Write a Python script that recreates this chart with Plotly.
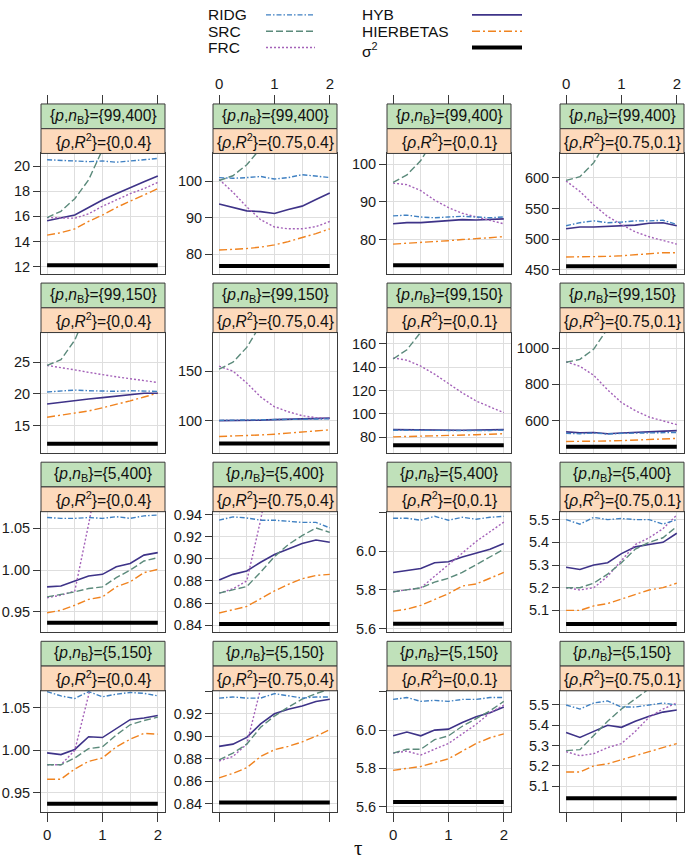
import plotly.graph_objects as go

W, H = 685, 865

# ---------------- data ----------------
TAU = [0, 0.25, 0.5, 0.75, 1.0, 1.25, 1.5, 1.75, 2.0]
ROW_LABELS = ["{99,400}", "{99,150}", "{5,400}", "{5,150}"]        # {p, n_B}
COL_LABELS = ["{0,0.4}", "{0.75,0.4}", "{0,0.1}", "{0.75,0.1}"]   # {rho, R^2}
METHODS = ["RIDG", "SRC", "FRC", "HYB", "HIERBETAS"]

# panels in row-major order (row = {p,nB}, col = {rho,R2})
RIDG = [
    [20.5, 20.45, 20.35, 20.35, 20.4, 20.3, 20.4, 20.5, 20.6],
    [101.0, 100.8, 101.0, 101.3, 100.6, 101.0, 101.8, 101.3, 101.0],
    [86.3, 86.5, 86.0, 85.8, 86.0, 86.2, 86.0, 85.8, 86.0],
    [522, 527, 530, 527, 528, 530, 530, 531, 524],
    [20.3, 20.4, 20.6, 20.5, 20.4, 20.4, 20.5, 20.4, 20.4],
    [100.3, 100.5, 100.6, 100.8, 101.0, 100.7, 101.2, 101.5, 101.8],
    [86.0, 85.8, 85.9, 85.6, 85.8, 85.7, 85.5, 85.8, 86.0],
    [530, 528, 532, 526, 530, 532, 530, 534, 535],
    [1.063, 1.062, 1.062, 1.063, 1.062, 1.064, 1.062, 1.065, 1.066],
    [0.935, 0.938, 0.937, 0.935, 0.935, 0.934, 0.933, 0.933, 0.928],
    [6.17, 6.17, 6.16, 6.18, 6.16, 6.175, 6.165, 6.175, 6.18],
    [5.50, 5.48, 5.51, 5.50, 5.505, 5.50, 5.50, 5.48, 5.50],
    [1.069, 1.064, 1.061, 1.069, 1.063, 1.066, 1.068, 1.067, 1.064],
    [0.934, 0.935, 0.934, 0.934, 0.938, 0.936, 0.934, 0.935, 0.935],
    [6.16, 6.17, 6.15, 6.155, 6.15, 6.16, 6.16, 6.17, 6.17],
    [5.50, 5.48, 5.51, 5.52, 5.49, 5.49, 5.50, 5.51, 5.50],
]
SRC = [
    [15.9, 16.4, 17.4, 18.9, 21.3, 24.5, 28.0, 31.5, 35.0],
    [100.2, 101.5, 104.5, 109, 115, 122, 130, 138, 147],
    [95.2, 97.2, 101.0, 106.5, 113, 121, 130, 140, 150],
    [596, 602, 625, 660, 700, 745, 790, 840, 890],
    [24.5, 25.4, 28.5, 33, 38, 44, 50, 56, 62],
    [152, 159, 174, 195, 220, 248, 278, 310, 345],
    [147, 155, 170, 190, 212, 236, 262, 290, 320],
    [922, 938, 995, 1100, 1220, 1350, 1490, 1640, 1800],
    [0.968, 0.971, 0.974, 0.978, 0.980, 0.991, 1.000, 1.011, 1.015],
    [0.869, 0.872, 0.875, 0.888, 0.902, 0.913, 0.921, 0.928, 0.924],
    [5.79, 5.80, 5.81, 5.84, 5.86, 5.89, 5.93, 5.97, 6.01],
    [5.20, 5.20, 5.22, 5.26, 5.31, 5.37, 5.40, 5.42, 5.47],
    [0.983, 0.983, 0.991, 1.002, 1.004, 1.018, 1.030, 1.035, 1.039],
    [0.879, 0.885, 0.893, 0.908, 0.918, 0.926, 0.933, 0.938, 0.942],
    [5.88, 5.90, 5.90, 5.95, 5.97, 6.02, 6.06, 6.10, 6.15],
    [5.275, 5.28, 5.35, 5.42, 5.48, 5.53, 5.58, 5.63, 5.68],
]
FRC = [
    [15.9, 15.9, 15.85, 16.2, 16.8, 17.3, 17.8, 18.2, 18.7],
    [100.5, 97.0, 93.0, 89.5, 87.5, 87.0, 87.0, 87.6, 89.0],
    [95.0, 94.6, 93.0, 90.5, 88.5, 87.0, 86.0, 85.0, 84.2],
    [595, 578, 556, 537, 524, 512, 504, 498, 492],
    [24.5, 24.2, 23.8, 23.4, 23.0, 22.7, 22.4, 22.1, 21.8],
    [155, 150, 138, 124, 114, 109, 105, 103, 102],
    [148, 146, 141, 134, 126, 118, 111, 106, 101],
    [925, 900, 850, 770, 700, 655, 620, 598, 578],
    [0.967, 0.970, 0.975, 1.055, 1.14, 1.22, 1.30, 1.38, 1.46],
    [0.869, 0.873, 0.880, 0.935, 1.00, 1.07, 1.14, 1.21, 1.28],
    [5.79, 5.80, 5.81, 5.87, 5.93, 5.99, 6.05, 6.10, 6.15],
    [5.20, 5.19, 5.20, 5.25, 5.32, 5.39, 5.42, 5.46, 5.52],
    [0.983, 0.983, 1.000, 1.065, 1.14, 1.21, 1.28, 1.35, 1.42],
    [0.878, 0.882, 0.893, 0.940, 0.99, 1.04, 1.09, 1.14, 1.19],
    [5.88, 5.89, 5.87, 5.90, 5.93, 5.98, 6.03, 6.09, 6.13],
    [5.27, 5.25, 5.26, 5.29, 5.31, 5.37, 5.44, 5.48, 5.51],
]
HYB = [
    [15.65, 15.85, 16.1, 16.7, 17.3, 17.8, 18.3, 18.75, 19.2],
    [93.8, 92.8, 91.9, 91.7, 91.2, 92.3, 93.2, 95.0, 96.8],
    [84.2, 84.5, 84.5, 84.8, 85.0, 85.3, 85.2, 85.3, 85.5],
    [517, 520, 520, 521, 522, 523, 526, 527, 522],
    [18.4, 18.7, 19.0, 19.2, 19.4, 19.6, 19.9, 20.1, 20.1],
    [100.0, 100.0, 100.3, 100.5, 101.0, 101.3, 101.5, 102.0, 102.5],
    [86.5, 86.3, 86.0, 86.0, 86.0, 86.0, 86.2, 86.3, 86.5],
    [538, 533, 535, 528, 532, 535, 536, 540, 545],
    [0.980, 0.981, 0.987, 0.993, 0.995, 1.004, 1.008, 1.018, 1.021],
    [0.881, 0.886, 0.889, 0.897, 0.904, 0.909, 0.914, 0.917, 0.915],
    [5.89, 5.90, 5.91, 5.94, 5.945, 5.97, 5.99, 6.01, 6.04],
    [5.29, 5.28, 5.30, 5.31, 5.35, 5.38, 5.39, 5.40, 5.44],
    [0.997, 0.995, 1.001, 1.016, 1.015, 1.026, 1.036, 1.038, 1.041],
    [0.891, 0.893, 0.899, 0.911, 0.920, 0.924, 0.927, 0.931, 0.933],
    [5.97, 5.99, 5.97, 6.00, 6.005, 6.04, 6.07, 6.09, 6.12],
    [5.365, 5.34, 5.37, 5.40, 5.39, 5.42, 5.445, 5.465, 5.475],
]
HIERBETAS = [
    [14.5, 14.7, 15.0, 15.6, 16.1, 16.7, 17.2, 17.7, 18.2],
    [81.2, 81.3, 81.6, 82.0, 82.6, 83.5, 84.5, 85.7, 87.0],
    [78.8, 79.0, 79.2, 79.4, 79.7, 80.0, 80.2, 80.5, 80.8],
    [471, 471, 471, 472, 473, 475, 477, 478, 478],
    [16.3, 16.6, 16.9, 17.3, 17.8, 18.3, 18.9, 19.5, 20.1],
    [84.0, 84.3, 84.8, 85.5, 86.3, 87.3, 88.4, 89.5, 90.7],
    [80.3, 80.5, 80.7, 81.0, 81.3, 81.7, 82.1, 82.5, 83.0],
    [485, 485, 487, 488, 490, 492, 495, 498, 502],
    [0.949, 0.952, 0.958, 0.965, 0.968, 0.980, 0.986, 0.997, 1.001],
    [0.851, 0.854, 0.857, 0.864, 0.871, 0.877, 0.882, 0.885, 0.886],
    [5.69, 5.70, 5.72, 5.75, 5.78, 5.82, 5.83, 5.86, 5.89],
    [5.10, 5.10, 5.12, 5.13, 5.15, 5.17, 5.19, 5.20, 5.22],
    [0.966, 0.966, 0.978, 0.987, 0.991, 1.004, 1.013, 1.020, 1.019],
    [0.863, 0.867, 0.872, 0.882, 0.888, 0.891, 0.895, 0.900, 0.906],
    [5.79, 5.80, 5.81, 5.83, 5.85, 5.89, 5.93, 5.96, 5.98],
    [5.17, 5.17, 5.20, 5.21, 5.23, 5.25, 5.27, 5.29, 5.31],
]
SIGMA2 = [12.1, 76.8, 73.2, 456, 12.1, 76.8, 73.2, 456,
          0.937, 0.841, 5.625, 5.04, 0.937, 0.841, 5.625, 5.04]

Y_TICKVALS = [
    [12, 14, 16, 18, 20], [80, 90, 100], [80, 90, 100], [450, 500, 550, 600],
    [15, 20, 25], [100, 150], [80, 100, 120, 140, 160], [600, 800, 1000],
    [0.95, 1.00, 1.05], [0.84, 0.86, 0.88, 0.90, 0.92, 0.94], [5.6, 5.8, 6.0, 6.2], [5.1, 5.2, 5.3, 5.4, 5.5],
    [0.95, 1.00, 1.05], [0.84, 0.86, 0.88, 0.90, 0.92, 0.94], [5.6, 5.8, 6.0, 6.2], [5.1, 5.2, 5.3, 5.4, 5.5],
]
Y_TICKTEXT = [
    ["12", "14", "16", "18", "20"], ["80", "90", "100"], ["80", "90", "100"], ["450", "500", "550", "600"],
    ["15", "20", "25"], ["100", "150"], ["80", "100", "120", "140", "160"], ["600", "800", "1000"],
    ["0.95", "1.00", "1.05"], ["0.84", "0.86", "0.88", "0.90", "0.92", "0.94"], ["5.6", "5.8", "6.0", ""], ["5.1", "5.2", "5.3", "5.4", "5.5"],
    ["0.95", "1.00", "1.05"], ["0.84", "0.86", "0.88", "0.90", "0.92", ""], ["5.6", "5.8", "6.0", ""], ["5.1", "5.2", "5.3", "5.4", "5.5"],
]
Y_RANGES = [
    [11.4, 21.0], [74.6, 107.6], [70.8, 102.9], [443, 640],
    [10.6, 29.7], [67, 189], [66.2, 169.7], [420, 1086],
    [0.9255, 1.070], [0.8335, 0.9427], [5.58, 6.204], [5.003, 5.535],
    [0.928, 1.070], [0.833, 0.9405], [5.575, 6.205], [4.975, 5.57],
]
X_TICKVALS = [0, 1, 2]

# ---------------- styling ----------------
STYLE = {
    "RIDG": dict(color="#3F80C2", dash="5px,2px,1.5px,2px", width=1.4),
    "SRC": dict(color="#5B8A7B", dash="7px,3px", width=1.4),
    "FRC": dict(color="#A462B9", dash="2px,2px", width=1.4),
    "HYB": dict(color="#3E3388", dash="solid", width=1.6),
    "HIERBETAS": dict(color="#F0831F", dash="8px,3px,2px,3px", width=1.4),
}
SERIES = {"RIDG": RIDG, "SRC": SRC, "FRC": FRC, "HYB": HYB, "HIERBETAS": HIERBETAS}
DRAW_ORDER = ["HIERBETAS", "HYB", "FRC", "SRC", "RIDG"]

FONT = "Liberation Sans, Arial, Helvetica, sans-serif"
COL_X = [41, 213, 387, 560]
PANEL_W = 124
ROW_Y = [100, 281, 462, 643]
STRIP_H = 25
PANEL_H = 122
XR = [-0.11, 2.13]
GREEN = "#C0E1BA"
PEACH = "#FDDABC"
BORDER = "#3a3a3a"
GRID = "#DEDEDE"


def px(x):
    return x / W


def py(y):
    return 1 - y / H


fig = go.Figure()
layout = dict(width=W, height=H, margin=dict(l=0, r=0, t=0, b=0),
              plot_bgcolor="white", paper_bgcolor="white", showlegend=False,
              font=dict(family=FONT, size=14, color="#1a1a1a"))
shapes, annotations = [], []

for r in range(4):
    for c in range(4):
        k = r * 4 + c
        s = "" if k == 0 else str(k + 1)
        x0, x1 = COL_X[c], COL_X[c] + PANEL_W
        ptop = ROW_Y[r] + 2 * STRIP_H
        pbot = ptop + PANEL_H
        bottom_row = (r == 3)
        layout["xaxis" + s] = dict(
            domain=[px(x0), px(x1)], anchor="y" + s, range=XR,
            tickvals=X_TICKVALS, ticktext=["0", "1", "2"],
            showticklabels=bottom_row and c in (0, 2),
            ticks="outside" if bottom_row else "", ticklen=9, tickcolor=BORDER, tickwidth=1,
            showgrid=True, gridcolor=GRID, gridwidth=1.3,
            minor=dict(tickvals=[0.5, 1.5], showgrid=True, gridcolor=GRID, gridwidth=1.3, ticks=""),
            showline=True, mirror=True, linecolor=BORDER, linewidth=1,
            zeroline=False, tickfont=dict(size=15), fixedrange=True,
        )
        layout["yaxis" + s] = dict(
            domain=[py(pbot), py(ptop)], anchor="x" + s, range=Y_RANGES[k],
            tickvals=Y_TICKVALS[k], ticktext=Y_TICKTEXT[k],
            ticks="outside", ticklen=7, tickcolor=BORDER, tickwidth=1,
            showgrid=True, gridcolor=GRID, gridwidth=1.3,
            showline=True, mirror=True, linecolor=BORDER, linewidth=1,
            zeroline=False, tickfont=dict(size=14.5), fixedrange=True,
        )
        # sigma^2 reference line
        fig.add_trace(go.Scatter(
            x=TAU, y=[SIGMA2[k]] * len(TAU), mode="lines",
            line=dict(color="black", width=4), xaxis="x" + s, yaxis="y" + s,
            hoverinfo="skip"))
        for m in DRAW_ORDER:
            st = STYLE[m]
            fig.add_trace(go.Scatter(
                x=TAU, y=SERIES[m][k], mode="lines", name=m,
                line=dict(color=st["color"], dash=st["dash"], width=st["width"]),
                xaxis="x" + s, yaxis="y" + s))
        # strips
        sy = ROW_Y[r]
        shapes.append(dict(type="rect", xref="paper", yref="paper",
                           x0=px(x0), x1=px(x1), y0=py(sy + STRIP_H), y1=py(sy),
                           fillcolor=GREEN, line=dict(color=BORDER, width=1), layer="above"))
        shapes.append(dict(type="rect", xref="paper", yref="paper",
                           x0=px(x0), x1=px(x1), y0=py(sy + 2 * STRIP_H), y1=py(sy + STRIP_H),
                           fillcolor=PEACH, line=dict(color=BORDER, width=1), layer="above"))
        annotations.append(dict(
            xref="paper", yref="paper", x=px((x0 + x1) / 2), y=py(sy + STRIP_H / 2),
            text="{<i>p</i>,<i>n</i><sub>B</sub>}=" + ROW_LABELS[r], showarrow=False,
            font=dict(size=15.6, family=FONT, color="#111"), xanchor="center", yanchor="middle"))
        annotations.append(dict(
            xref="paper", yref="paper", x=px((x0 + x1) / 2), y=py(sy + 1.5 * STRIP_H),
            text="{<i>ρ</i>,<i>R</i><sup>2</sup>}=" + COL_LABELS[c], showarrow=False,
            font=dict(size=15.6, family=FONT, color="#111"), xanchor="center", yanchor="middle"))

# top tick axes (above the strips of the first row)
for c in range(4):
    n = 17 + c
    base = "x" if c == 0 else "x" + str(c + 1)
    yb = "y" if c == 0 else "y" + str(c + 1)
    layout["xaxis" + str(n)] = dict(
        overlaying=base, anchor="free", position=py(ROW_Y[0]), side="top", range=XR,
        tickvals=X_TICKVALS, ticktext=["0", "1", "2"], showticklabels=c in (1, 3),
        ticks="outside", ticklen=9, tickcolor=BORDER, tickwidth=1,
        showgrid=False, showline=False, zeroline=False, tickfont=dict(size=15), fixedrange=True)
    fig.add_trace(go.Scatter(x=TAU, y=[SIGMA2[c]] * len(TAU), mode="lines",
                             line=dict(width=0, color="rgba(0,0,0,0)"), opacity=0,
                             xaxis="x" + str(n), yaxis=yb, hoverinfo="skip"))

# legend (text left, key right, two columns)
LEG_ROWS = [10, 26.5, 43]
leg_items = [("RIDG", 206, 266, 315, 0), ("SRC", 206, 266, 315, 1), ("FRC", 206, 266, 315, 2),
             ("HYB", 360, 472, 522, 0), ("HIERBETAS", 360, 472, 522, 1), ("σ2", 360, 472, 522, 2)]
for name, tx, lx0, lx1, row in leg_items:
    yy = LEG_ROWS[row]
    label = "σ<sup>2</sup>" if name == "σ2" else name
    annotations.append(dict(xref="paper", yref="paper", x=px(tx), y=py(yy + (2 if name == "σ2" else 0)),
                            text=label, showarrow=False, xanchor="left", yanchor="middle",
                            font=dict(size=15.5, family=FONT, color="#111")))
    if name == "σ2":
        ln = dict(color="black", width=4)
    else:
        st = STYLE[name]
        ln = dict(color=st["color"], width=st["width"], dash=st["dash"])
    shapes.append(dict(type="line", xref="paper", yref="paper",
                       x0=px(lx0), x1=px(lx1), y0=py(yy), y1=py(yy), line=ln))

# x-axis title
annotations.append(dict(xref="paper", yref="paper", x=px(358), y=py(852), text="τ",
                        showarrow=False, xanchor="center", yanchor="middle",
                        font=dict(size=21, family="Liberation Serif, DejaVu Serif, serif", color="#111")))

layout["shapes"] = shapes
layout["annotations"] = annotations
fig.update_layout(**layout)
# remove the default 8px page margin so the figure sits at the window origin
fig.write_html("out.html", post_script="document.body.style.margin='0px';",
               config={"displayModeBar": False})
